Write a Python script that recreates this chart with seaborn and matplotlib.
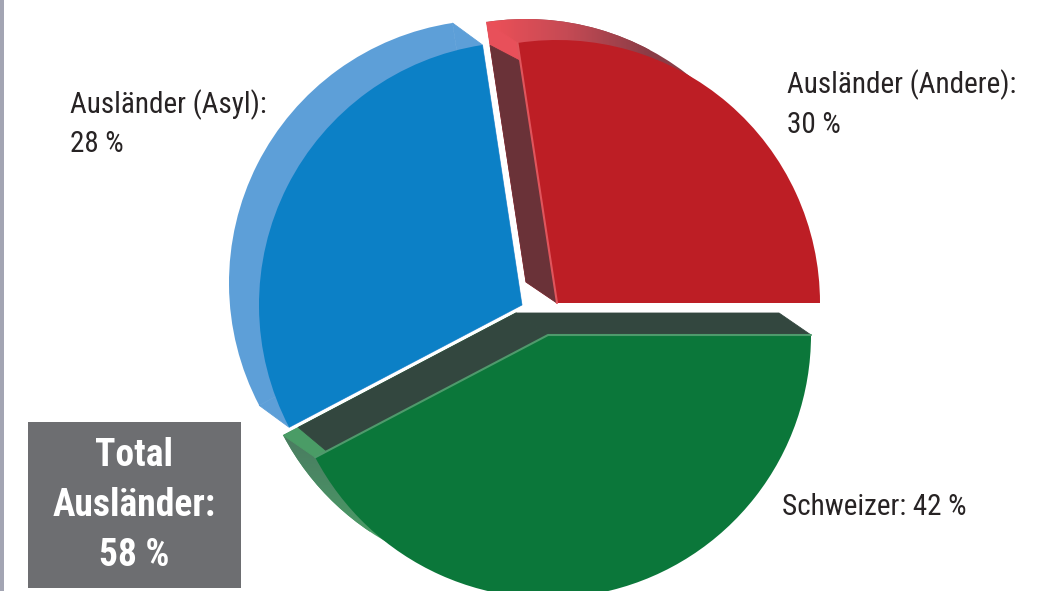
import numpy as np
import matplotlib
matplotlib.use("Agg")
import matplotlib.pyplot as plt
from matplotlib.colors import LinearSegmentedColormap
from matplotlib.patches import Rectangle
import seaborn as sns

# Data
slices = ["Ausländer (Andere)", "Ausländer (Asyl)", "Schweizer"]
printed_share = [30, 28, 42]
# the arcs in the picture are not quite what the labels say
drawn_share = [27.4, 30.3, 42.3]
total_foreign = 58

# Styling
FACE = ["#bd1e25", "#0c80c6", "#0b773a"]
RIM = ["#e8505a", "#5d9fd8", "#4a9c66"]
EDGE = ["#e0555c", "#2f8fd0", "#4f9a6c"]
SIDE = ["#6a3238", "#33473f"]
BOX_COLOR = "#6d6e71"
TEXT_COLOR = "#272324"
W, H = 1061, 591
RADIUS = 263
APEX = [(557, 303), (522, 305), (548, 335)]
BACK_SHIFT = [(-31, -21), (-30, -22), (-32, -22)]

sns.set_theme(style="white")
plt.rcParams["font.family"] = ["Roboto Condensed", "Lato", "DejaVu Sans"]

fig = plt.figure(figsize=(W / 100, H / 100), dpi=100)
ax = fig.add_axes([0, 0, 1, 1])


def to_xy(px, py):
    return px, H - py


def draw_layer(i, centre, color, z):
    wedges, _ = ax.pie(drawn_share, colors=[color] * 3, center=to_xy(*centre),
                       radius=RADIUS, startangle=0, frame=True,
                       wedgeprops=dict(linewidth=0, edgecolor="none"))
    for j, w in enumerate(wedges):
        w.set_visible(j == i)
        w.set_zorder(z)
    return wedges[i]


def corner(centre, angle, frac=1.0):
    x, y = to_xy(*centre)
    a = np.deg2rad(angle)
    return x + frac * RADIUS * np.cos(a), y + frac * RADIUS * np.sin(a)


def side_face(front, back, angle, color, z, front_frac=1.0, back_frac=1.0):
    pts = [to_xy(*back), corner(back, angle, back_frac),
           corner(front, angle, front_frac), to_xy(*front)]
    ax.fill(*zip(*pts), facecolor=color, edgecolor=color, lw=0.6, zorder=z)


for i in [2, 1, 0]:
    front = APEX[i]
    back = (front[0] + BACK_SHIFT[i][0], front[1] + BACK_SHIFT[i][1])

    back_wedge = draw_layer(i, back, RIM[i], 2)
    t1, t2 = back_wedge.theta1, back_wedge.theta2

    # the lit rim, with a fade on the red and green pieces
    if i == 0:
        cmap = LinearSegmentedColormap.from_list("rim", ["#ee5058", "#c44a54", "#8a3c46"])
        im = ax.imshow(np.linspace(0, 1, 256)[None, :], cmap=cmap, aspect="auto",
                       extent=[487, 650, H - 310, H - 10], zorder=2.1)
        im.set_clip_path(back_wedge)
        # past the fade the rim stays dark
        back_wedge.set_facecolor("#8a3c46")
    elif i == 2:
        cmap = LinearSegmentedColormap.from_list("rim", ["#4a7a60", "#4a8a64", "#4a9c66"])
        im = ax.imshow(np.linspace(0, 1, 256)[:, None], cmap=cmap, aspect="auto",
                       extent=[280, 370, H - 540, H - 430], zorder=2.1)
        im.set_clip_path(back_wedge)

    # side faces along the cuts
    if i == 0:
        side_face(front, back, t2, RIM[0], 2.2)
        side_face(front, back, t2, SIDE[0], 2.3, front_frac=0.93, back_frac=0.91)
    elif i == 1:
        side_face(front, back, t1, RIM[1], 2.2)
        side_face(front, back, t2, RIM[1], 2.2)
    else:
        side_face(front, back, t1, RIM[2], 2.2)
        side_face(front, back, t1, SIDE[1], 2.3, front_frac=0.95, back_frac=0.935)
        side_face(front, back, t2, SIDE[1], 2.3)

    draw_layer(i, front, FACE[i], 3)

    # thin bright line where the face meets the side
    if i == 0:
        x, y = zip(to_xy(*front), corner(front, t2))
        ax.plot(x, y, color=EDGE[0], lw=1.5, zorder=4)
    elif i == 2:
        x, y = zip(corner(front, t1), to_xy(*front), corner(front, t2))
        ax.plot(x, y, color=EDGE[2], lw=1.5, zorder=4)

# Frame strip and total box
ax.add_patch(Rectangle((0, 0), 4, H, color="#a3a5b3", lw=0, zorder=1))
ax.add_patch(Rectangle((28, 3), 213, 166, color=BOX_COLOR, lw=0, zorder=5))

# Labels
label_kw = dict(fontsize=21, color=TEXT_COLOR, va="center", ha="left", zorder=6)
ax.text(70, H - 105, f"{slices[1]}:", **label_kw)
ax.text(70, H - 144, f"{printed_share[1]} %", **label_kw)
ax.text(787, H - 85, f"{slices[0]}:", **label_kw)
ax.text(787, H - 125, f"{printed_share[0]} %", **label_kw)
ax.text(782, H - 507, f"{slices[2]}: {printed_share[2]} %", **label_kw)

box_kw = dict(fontsize=27, color="white", fontweight="bold", ha="center", va="center", zorder=6)
ax.text(134, H - 455, "Total", **box_kw)
ax.text(134, H - 505, "Ausländer:", **box_kw)
ax.text(134, H - 555, f"{total_foreign} %", **box_kw)

ax.set_xlim(0, W)
ax.set_ylim(0, H)
ax.set_aspect("auto")
ax.axis("off")

fig.savefig("out.png", dpi=100, facecolor="white")
plt.close(fig)
